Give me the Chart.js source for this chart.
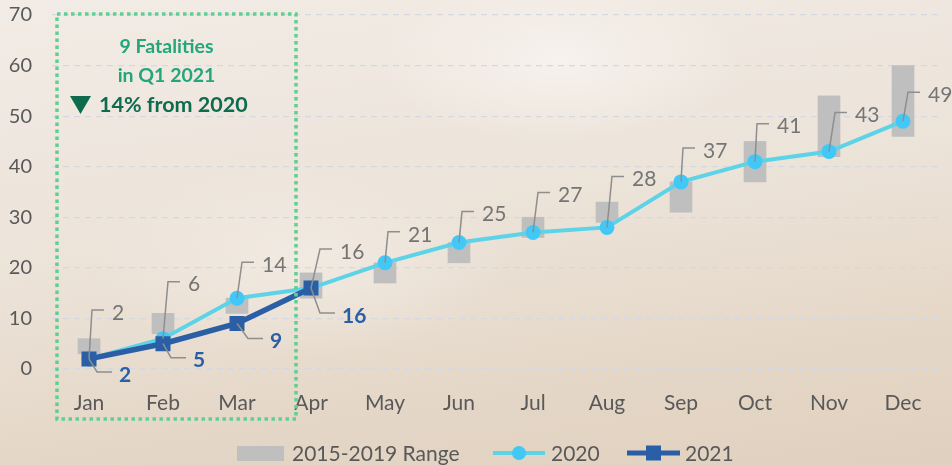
<!DOCTYPE html>
<html>
<head>
<meta charset="utf-8">
<script src="https://cdn.jsdelivr.net/npm/chart.js@4.4.1/dist/chart.umd.min.js"></script>
<style>
  html, body { margin: 0; padding: 0; }
  body {
    width: 952px; height: 465px; overflow: hidden;
    background:
      radial-gradient(ellipse 260px 120px at 560px 60px, rgba(248,244,240,0.8), rgba(248,244,240,0) 70%),
      radial-gradient(ellipse 300px 140px at 300px 260px, rgba(246,240,233,0.6), rgba(246,240,233,0) 70%),
      linear-gradient(172deg, #f2ece6 0%, #ece3d9 45%, #e4d6c6 80%, #e0d0be 100%);
  }
  #wrap { position: relative; width: 952px; height: 465px; }
  canvas { display: block; }
</style>
</head>
<body>
<div id="wrap"><canvas id="myChart" width="952" height="465"></canvas></div>
<script>
// data
const months = ['Jan','Feb','Mar','Apr','May','Jun','Jul','Aug','Sep','Oct','Nov','Dec'];
const rangeLow  = [3, 7, 11, 14, 17, 21, 26, 29, 31, 37, 42, 46];
const rangeHigh = [6, 11, 14, 19, 21, 25, 30, 33, 37, 45, 54, 60];
const fatal2020 = [2, 6, 14, 16, 21, 25, 27, 28, 37, 41, 43, 49];
const fatal2021 = [2, 5, 9, 16];

// label leader placement (px), one per point
const lift2020 = [49, 57, 36, 39, 31, 31, 40, 51, 34, 38, 39, 29];
const shift2020 = [3, 5, 5, 9, 3, 3, 5, 5, 2, 2, 6, 5];
const drop2021 = [13, 14, 15, 25];
const shift2021 = [8, 8, 11, 9];

const FONT = 'Lato, "Open Sans", sans-serif';
const C2020 = '#5dd3e8', M2020 = '#42c8f7', C2021 = '#2a5fa6';

const labelsPlugin = {
  id: 'leaderLabels',
  afterDatasetsDraw(chart) {
    const ctx = chart.ctx;
    const m20 = chart.getDatasetMeta(1).data;
    const m21 = chart.getDatasetMeta(2).data;
    ctx.save();
    ctx.strokeStyle = '#8e8e8e';
    ctx.lineWidth = 1.5;
    ctx.textBaseline = 'middle';
    ctx.textAlign = 'left';
    ctx.font = '21px ' + FONT;
    ctx.fillStyle = '#757575';
    m20.forEach((p, i) => {
      const tx = p.x + shift2020[i], ty = p.y - lift2020[i];
      ctx.beginPath();
      ctx.moveTo(p.x, p.y);
      ctx.lineTo(tx, ty);
      ctx.lineTo(tx + 12, ty);
      ctx.stroke();
      ctx.fillText(String(fatal2020[i]), tx + 20, ty + 3);
    });
    ctx.font = 'bold 21px ' + FONT;
    ctx.fillStyle = C2021;
    m21.forEach((p, i) => {
      const tx = p.x + shift2021[i], ty = p.y + drop2021[i];
      ctx.beginPath();
      ctx.moveTo(p.x, p.y);
      ctx.lineTo(tx, ty);
      ctx.lineTo(tx + 15, ty);
      ctx.stroke();
      ctx.fillText(String(fatal2021[i]), tx + 22, ty + 3);
    });
    ctx.restore();
  },
  afterDraw(chart) {
    const ctx = chart.ctx;
    const x = chart.scales.x, area = chart.chartArea;
    // dotted Q1 box
    const left = x.getPixelForValue(0) - 32;
    const right = x.getPixelForValue(3) - 15;
    const top = area.top - 1;
    const bottom = area.bottom + 50;
    ctx.save();
    ctx.strokeStyle = '#5fd092';
    ctx.lineWidth = 3.5;
    ctx.setLineDash([3.5, 3.5]);
    ctx.strokeRect(left, top, right - left, bottom - top);
    ctx.setLineDash([]);
    const cx = (left + right) / 2 - 10;
    ctx.textAlign = 'center';
    ctx.textBaseline = 'middle';
    ctx.font = 'bold 19.5px ' + FONT;
    ctx.fillStyle = '#22a67a';
    ctx.fillText('9 Fatalities', cx, 47);
    ctx.fillText('in Q1 2021', cx, 76);
    ctx.fillStyle = '#0f6b4e';
    ctx.textAlign = 'left';
    ctx.font = 'bold 21.5px ' + FONT;
    ctx.fillText('14% from 2020', 99, 105);
    ctx.beginPath();
    ctx.moveTo(70, 96);
    ctx.lineTo(91, 96);
    ctx.lineTo(80.5, 114);
    ctx.closePath();
    ctx.fill();

    // legend
    const ly = 453;
    ctx.font = '21px ' + FONT;
    ctx.textAlign = 'left';
    ctx.fillStyle = '#bfbfbf';
    ctx.fillRect(237, 446, 47, 15);
    ctx.fillStyle = '#595959';
    ctx.fillText('2015-2019 Range', 292, ly + 1);
    ctx.strokeStyle = C2020; ctx.lineWidth = 4;
    ctx.beginPath(); ctx.moveTo(493, ly); ctx.lineTo(545, ly); ctx.stroke();
    ctx.fillStyle = M2020;
    ctx.beginPath(); ctx.arc(519, ly, 7, 0, Math.PI * 2); ctx.fill();
    ctx.fillStyle = '#595959';
    ctx.fillText('2020', 551, ly + 1);
    ctx.strokeStyle = C2021; ctx.lineWidth = 5;
    ctx.beginPath(); ctx.moveTo(627, ly); ctx.lineTo(680, ly); ctx.stroke();
    ctx.fillStyle = C2021;
    ctx.fillRect(646, ly - 7.5, 15, 15);
    ctx.fillStyle = '#595959';
    ctx.fillText('2021', 685, ly + 1);
    ctx.restore();
  }
};

const ctx = document.getElementById('myChart');
new Chart(ctx, {
  type: 'bar',
  data: {
    labels: months,
    datasets: [
      {
        type: 'bar',
        label: '2015-2019 Range',
        data: rangeLow.map((v, i) => [v, rangeHigh[i]]),
        backgroundColor: '#bfbfbf',
        barThickness: 22,
        order: 3
      },
      {
        type: 'line',
        label: '2020',
        data: fatal2020,
        borderColor: C2020,
        borderWidth: 4,
        pointStyle: 'circle',
        pointRadius: 7.5,
        pointBackgroundColor: M2020,
        pointBorderWidth: 0,
        tension: 0,
        order: 2
      },
      {
        type: 'line',
        label: '2021',
        data: fatal2021,
        borderColor: C2021,
        borderWidth: 5.5,
        pointStyle: 'rect',
        pointRadius: 10.6,
        pointBackgroundColor: C2021,
        pointBorderWidth: 0,
        tension: 0,
        order: 1
      }
    ]
  },
  options: {
    responsive: false,
    animation: false,
    devicePixelRatio: 1,
    layout: { padding: { top: 15, right: 12, left: 0, bottom: 0 } },
    plugins: {
      legend: { display: false },
      tooltip: { enabled: false }
    },
    scales: {
      x: {
        grid: { display: false, drawTicks: false },
        border: { display: false },
        ticks: { color: '#595959', font: { family: FONT, size: 21 }, padding: 22, maxRotation: 0 },
        afterFit(s) { s.height = 96; }
      },
      y: {
        min: 0, max: 70,
        ticks: { stepSize: 10, color: '#595959', font: { family: FONT, size: 20 }, padding: 20 },
        grid: {
          drawTicks: false,
          color: '#d4d9e1',
          lineWidth: 1.2
        },
        border: { display: false, dash: [6, 5] },
        afterFit(s) { s.width = 52; s.paddingTop = 0; s.paddingBottom = 0; }
      }
    }
  },
  plugins: [labelsPlugin]
});
</script>
</body>
</html>
